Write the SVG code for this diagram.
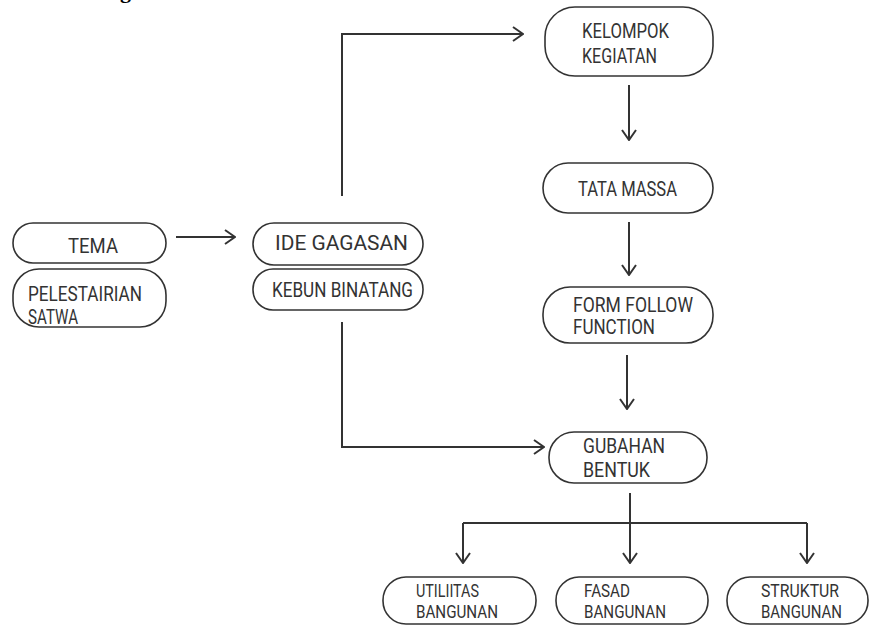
<svg xmlns="http://www.w3.org/2000/svg" width="870" height="626" viewBox="0 0 870 626">
<style>
.box{fill:#fff;stroke:#333;stroke-width:1.6}
.t{font-family:Roboto,"Liberation Sans",sans-serif;font-size:20px;fill:#333}
.s{font-size:17.5px}
.c{fill:none;stroke:#333;stroke-width:2}
</style>
<defs>
<marker id="ah" viewBox="0 0 12 16" refX="11" refY="8" markerWidth="12" markerHeight="16" markerUnits="userSpaceOnUse" orient="auto">
<path d="M1,1 L11,8 L1,15" fill="none" stroke="#333" stroke-width="2"/>
</marker>
</defs>
<rect width="870" height="626" fill="#fff"/>
<text x="120" y="-2" font-family="Liberation Serif,serif" font-weight="bold" font-size="22" fill="#000">g</text>
<g id="connectors">
<path class="c" d="M176,237 H235" marker-end="url(#ah)"/>
<path class="c" d="M342,196 V34 H523" marker-end="url(#ah)"/>
<path class="c" d="M342,322 V447 H544" marker-end="url(#ah)"/>
<path class="c" d="M629,85 V140" marker-end="url(#ah)"/>
<path class="c" d="M629,222 V275" marker-end="url(#ah)"/>
<path class="c" d="M627,355 V409" marker-end="url(#ah)"/>
<path class="c" d="M630,493 V523"/>
<path class="c" d="M463,523 H807"/>
<path class="c" d="M463,523 V563" marker-end="url(#ah)"/>
<path class="c" d="M630,523 V563" marker-end="url(#ah)"/>
<path class="c" d="M807,523 V563" marker-end="url(#ah)"/>
</g>
<g id="tema"><rect class="box" x="13" y="223" width="153" height="40" rx="20"/><text class="t" x="68" y="253" textLength="50" lengthAdjust="spacingAndGlyphs">TEMA</text></g>
<g id="pelestarian"><rect class="box" x="13" y="269" width="153" height="58" rx="26"/><text class="t" x="28" y="301" textLength="114" lengthAdjust="spacingAndGlyphs">PELESTAIRIAN</text><text class="t" x="28" y="324" textLength="50" lengthAdjust="spacingAndGlyphs">SATWA</text></g>
<g id="ide"><rect class="box" x="253" y="223" width="170" height="42" rx="21"/><text class="t" x="275" y="250" textLength="133" lengthAdjust="spacingAndGlyphs">IDE GAGASAN</text></g>
<g id="kebun"><rect class="box" x="253" y="269" width="170" height="41" rx="20"/><text class="t" x="272" y="297" textLength="141" lengthAdjust="spacingAndGlyphs">KEBUN BINATANG</text></g>
<g id="kelompok"><rect class="box" x="545" y="7" width="168" height="69" rx="30"/><text class="t" x="582" y="38" textLength="87" lengthAdjust="spacingAndGlyphs">KELOMPOK</text><text class="t" x="582" y="63" textLength="75" lengthAdjust="spacingAndGlyphs">KEGIATAN</text></g>
<g id="tatamassa"><rect class="box" x="543" y="163" width="170" height="50" rx="25"/><text class="t" x="578" y="196" textLength="99" lengthAdjust="spacingAndGlyphs">TATA MASSA</text></g>
<g id="form"><rect class="box" x="543" y="287" width="170" height="56" rx="27"/><text class="t" x="573" y="312" textLength="120" lengthAdjust="spacingAndGlyphs">FORM FOLLOW</text><text class="t" x="573" y="334" textLength="82" lengthAdjust="spacingAndGlyphs">FUNCTION</text></g>
<g id="gubahan"><rect class="box" x="549" y="432" width="158" height="51" rx="25"/><text class="t" x="583" y="453" textLength="82" lengthAdjust="spacingAndGlyphs">GUBAHAN</text><text class="t" x="583" y="477" textLength="67" lengthAdjust="spacingAndGlyphs">BENTUK</text></g>
<g id="utilitas"><rect class="box" x="383" y="577" width="153" height="47" rx="23"/><text class="t s" x="416" y="597" textLength="63" lengthAdjust="spacingAndGlyphs">UTILIITAS</text><text class="t s" x="416" y="618" textLength="82" lengthAdjust="spacingAndGlyphs">BANGUNAN</text></g>
<g id="fasad"><rect class="box" x="556" y="577" width="152" height="47" rx="23"/><text class="t s" x="584" y="597" textLength="46" lengthAdjust="spacingAndGlyphs">FASAD</text><text class="t s" x="584" y="618" textLength="82" lengthAdjust="spacingAndGlyphs">BANGUNAN</text></g>
<g id="struktur"><rect class="box" x="727" y="577" width="141" height="47" rx="23"/><text class="t s" x="761" y="597" textLength="78" lengthAdjust="spacingAndGlyphs">STRUKTUR</text><text class="t s" x="761" y="618" textLength="81" lengthAdjust="spacingAndGlyphs">BANGUNAN</text></g>
</svg>
